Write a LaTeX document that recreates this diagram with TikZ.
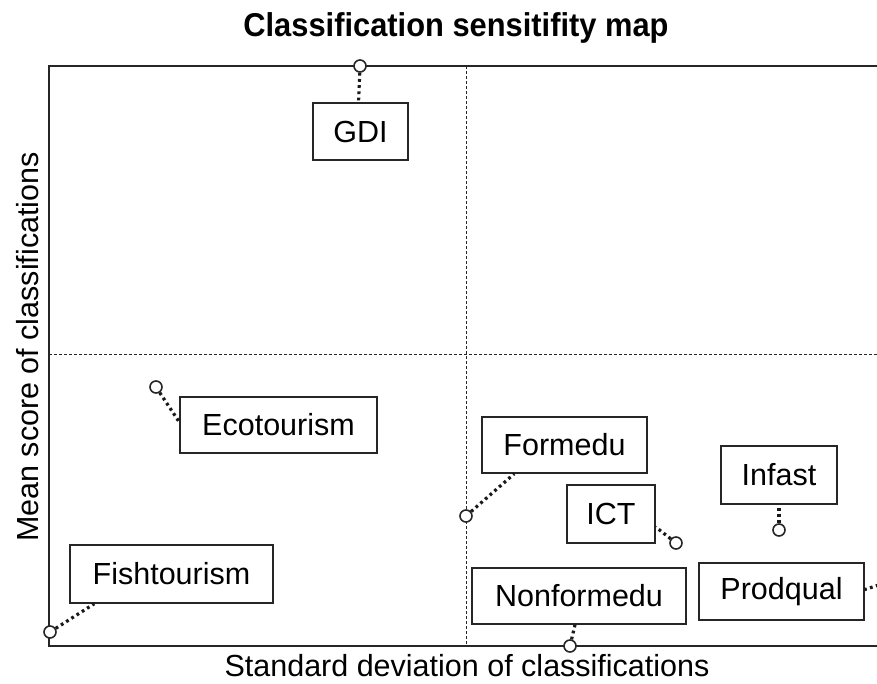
\documentclass[tikz,border=0pt]{standalone}
\usepackage{fontspec}
\setmainfont{Liberation Sans}
\usetikzlibrary{calc}
\newcommand{\lblfont}{\fontsize{30.5}{34}\selectfont}
\newcommand{\ttlfont}{\fontsize{33}{38}\selectfont\bfseries}
\tikzset{
  frame/.style={line width=2pt, black!85},
  quad/.style={line width=1pt, black!85, dash pattern=on 3pt off 2pt},
  catbox/.style={draw, line width=1.5pt, black!85, fill=white, inner sep=0pt, font=\lblfont, text=black},
  link/.style={line width=3.2pt, black!90, dash pattern=on 2.8pt off 3.4pt},
  pt/.style={circle, draw, line width=1.6pt, black!85, fill=white, minimum size=12pt, inner sep=0pt},
  axlabel/.style={font=\lblfont, text=black, inner sep=0pt}
}
\begin{document}
\begin{tikzpicture}[x=1pt,y=-1pt]
\useasboundingbox (0,0) rectangle (877,683);
\clip (0,0) rectangle (877,683);

% quadrant dividers
\draw[quad] (466,66) -- (466,646);
\draw[quad] (49,354) -- (877,354);

% plot frame (open on the right)
\draw[frame] (877,66) -- (49,66) -- (49,646) -- (877,646);

% title and axis titles
\node[axlabel, font=\ttlfont, xscale=0.935] (title) at (456,28) {Classification sensitifity map};
\node[axlabel] (xlab) at (467,666) {Standard deviation of classifications};
\node[axlabel, rotate=90] (ylab) at (28,347) {Mean score of classifications};

% category boxes
\node[catbox, minimum width=95pt, minimum height=57pt] (gdi) at (360.5,131.5) {GDI};
\node[catbox, minimum width=197pt, minimum height=56pt] (eco) at (278.5,425) {Ecotourism};
\node[catbox, minimum width=165pt, minimum height=56pt] (form) at (564.5,445) {Formedu};
\node[catbox, minimum width=88pt, minimum height=58pt] (ict) at (611,514) {ICT};
\node[catbox, minimum width=116pt, minimum height=58pt] (infast) at (779,475) {Infast};
\node[catbox, minimum width=203pt, minimum height=58pt] (fish) at (171.5,574) {Fishtourism};
\node[catbox, minimum width=214pt, minimum height=56pt] (nonform) at (579,596) {Nonformedu};
\node[catbox, minimum width=165pt, minimum height=57pt] (prod) at (781.5,591.5) {Prodqual};

% category positions
\node[pt] (gdi-p) at (360,66) {};
\node[pt] (eco-p) at (156,387) {};
\node[pt] (form-p) at (466,516) {};
\node[pt] (ict-p) at (676,543) {};
\node[pt] (infast-p) at (779,530) {};
\node[pt] (fish-p) at (50,632) {};
\node[pt] (nonform-p) at (570,646) {};
\node[pt] (prod-p) at (885,583) {};

% leader lines from positions to boxes
\draw[link] (gdi-p) -- ($(gdi.north)+(-2,0)$);
\draw[link] (eco-p) -- ($(eco.west)+(0,-3)$);
\draw[link] (form-p) -- ($(form.south west)+(33,0)$);
\draw[link] (ict-p) -- ($(ict.east)+(0,13)$);
\draw[link] (infast-p) -- (infast.south);
\draw[link] (fish-p) -- ($(fish.south west)+(25,0)$);
\draw[link] (nonform-p) -- ($(nonform.south)+(-4,0)$);
\draw[link] (prod-p) -- ($(prod.east)+(0,-2)$);
\end{tikzpicture}
\end{document}
